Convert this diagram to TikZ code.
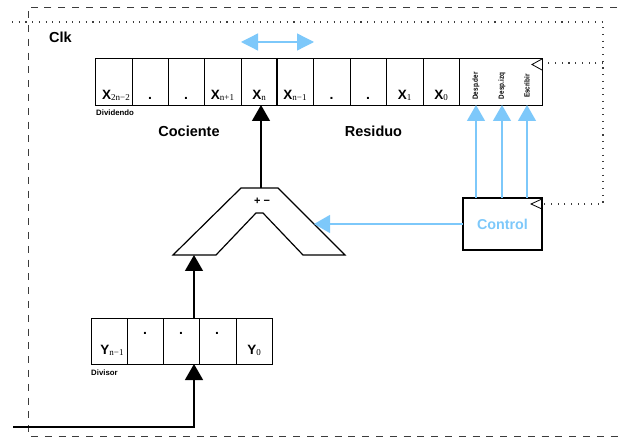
\documentclass[tikz,border=0pt]{standalone}
\usepackage{fontspec}
\setmainfont{Liberation Serif}
\setsansfont{Liberation Sans}
\usetikzlibrary{arrows.meta}
\definecolor{ctrlblue}{RGB}{125,200,250}
\definecolor{framegray}{RGB}{60,60,60}

% register bit: bold sans letter with a small serif index
\newcommand\regbit[2]{{\sffamily\bfseries\fontsize{13.5}{13.5}\selectfont #1}{\rmfamily\mdseries\fontsize{9}{9}\selectfont\raisebox{-0.8pt}{#2}}}
\newcommand\regdot{{\sffamily\bfseries\fontsize{14}{14}\selectfont .}}

\begin{document}
\begin{tikzpicture}[x=1pt,y=-1pt,
  font=\sffamily\bfseries,
  cell/.style={draw, line width=0.8pt, minimum height=47pt, inner sep=0pt, outer sep=0pt, anchor=north west},
  dcell/.style={draw, line width=0.8pt, minimum height=46pt, minimum width=36pt, inner sep=0pt, outer sep=0pt, anchor=north west},
  bitlabel/.style={anchor=base, inner sep=0pt},
  ctrllabel/.style={rotate=90, inner sep=0pt, font=\sffamily\bfseries\fontsize{7.5}{7.5}\selectfont, xscale=0.85},
  caption/.style={anchor=base, inner sep=0pt, font=\sffamily\bfseries\fontsize{14.5}{14.5}\selectfont},
  small/.style={anchor=base west, inner sep=0pt, font=\sffamily\bfseries\fontsize{7.8}{7.8}\selectfont},
  conn/.style={draw=black, line width=1.3pt, -{Triangle[length=16pt,width=18pt]}},
  bconn/.style={draw=ctrlblue, line width=1.3pt, -{Triangle[length=16pt,width=18pt]}},
  clkline/.style={draw=framegray, line width=1.1pt, dash pattern=on 1.1pt off 5.6pt},
  frameline/.style={draw=framegray, line width=0.9pt, dash pattern=on 7pt off 6.8pt},
  clktri/.style={draw=black, line width=0.8pt}]
\useasboundingbox (0,0) rectangle (624,438);

% outer dashed frame
\draw[frameline] (700,7) -- (28,7) -- (28,436) -- (700,436);

% clock distribution
\coordinate (clkin) at (12,22);
\coordinate (regclk) at (542,63);
\coordinate (ctrlclk) at (542,204);
\draw[clkline] (clkin) -- (603,22) -- (603,204) -- (ctrlclk);
\draw[clkline] (603,63) -- (regclk);
\node[caption, anchor=base west] (clk) at (49,43) {Clk};

% shift direction
\coordinate (shl) at (241,42);
\coordinate (shr) at (314,42);
\draw[draw=ctrlblue, line width=1.3pt, {Triangle[length=17pt,width=17pt]}-{Triangle[length=17pt,width=17pt]}] (shl) -- (shr);

% dividend register
\node[cell, minimum width=37pt] (d1) at (95,58) {};
\node[cell, minimum width=36pt] (d2) at (132,58) {};
\node[cell, minimum width=36pt] (d3) at (168,58) {};
\node[cell, minimum width=37pt] (d4) at (204,58) {};
\node[cell, minimum width=36pt] (d5) at (241,58) {};
\node[cell, minimum width=36pt] (d6) at (277,58) {};
\node[cell, minimum width=37pt] (d7) at (313,58) {};
\node[cell, minimum width=36pt] (d8) at (350,58) {};
\node[cell, minimum width=37pt] (d9) at (386,58) {};
\node[cell, minimum width=36pt] (d10) at (423,58) {};
\node[cell, minimum width=83pt] (dc) at (459,58) {};
\draw[line width=2.6pt] (d6.north west) -- (d6.south west);

\node[bitlabel] (x1) at (116,100) {\regbit{X}{2n−2}};
\node[bitlabel] (x2) at (150,100) {\regdot};
\node[bitlabel] (x3) at (186,100) {\regdot};
\node[bitlabel] (x4) at (222.5,100) {\regbit{X}{n+1}};
\node[bitlabel] (x5) at (259,100) {\regbit{X}{n}};
\node[bitlabel] (x6) at (295,100) {\regbit{X}{n−1}};
\node[bitlabel] (x7) at (331.5,100) {\regdot};
\node[bitlabel] (x8) at (368,100) {\regdot};
\node[bitlabel] (x9) at (404.5,100) {\regbit{X}{1}};
\node[bitlabel] (x10) at (441,100) {\regbit{X}{0}};

\node[ctrllabel] (sr) at (476,86) {Desp.der};
\node[ctrllabel] (sl) at (502,86) {Desp.izq};
\node[ctrllabel] (wr) at (527,86) {Escribir};
\draw[clktri] (542,59) -- (532,64.5) -- (542,70);

\node[small] (dvd) at (96,116) {Dividendo};
\node[caption] (coc) at (189,137) {Cociente};
\node[caption] (res) at (373.5,137) {Residuo};

% adder / subtractor
\coordinate (aluout) at (261,188);
\coordinate (aluin) at (194,255);
\coordinate (aluctl) at (314,224);
\draw[line width=1.2pt, line join=miter] (241,188) -- (278,188) -- (345,255) -- (303,255) -- (263,213) -- (256,213) -- (216,255) -- (173,255) -- cycle;
\node[anchor=center, inner sep=0pt, font=\sffamily\bfseries\fontsize{11}{11}\selectfont] (pm) at (262,201) {+ −};
\draw[conn] (aluout) -- (aluout |- d5.south);

% control unit
\node[draw, line width=1.6pt, minimum width=79pt, minimum height=52pt, anchor=north west, inner sep=0pt, outer sep=0pt, text=ctrlblue, font=\sffamily\bfseries\fontsize{14.3}{14.3}\selectfont] (ctrl) at (463,198) {Control};
\draw[clktri] (542,199) -- (531,204) -- (542,209);
\draw[bconn] (sr |- ctrl.north) -- (sr |- dc.south);
\draw[bconn] (sl |- ctrl.north) -- (sl |- dc.south);
\draw[bconn] (wr |- ctrl.north) -- (wr |- dc.south);
\draw[bconn] (ctrl.west) -- (aluctl);

% divisor register
\node[dcell] (y1) at (91,318) {};
\node[dcell] (y2) at (127,318) {};
\node[dcell] (y3) at (163,318) {};
\node[dcell, minimum width=37pt] (y4) at (199,318) {};
\node[dcell] (y5) at (236,318) {};
\node[bitlabel] (ty1) at (112,355) {\regbit{Y}{n−1}};
\node[bitlabel] (ty2) at (145,335) {\regdot};
\node[bitlabel] (ty3) at (181,335) {\regdot};
\node[bitlabel] (ty4) at (217,335) {\regdot};
\node[bitlabel] (ty5) at (254,355) {\regbit{Y}{0}};
\node[small] (dvs) at (91,375) {Divisor};

\coordinate (divout) at (194,318);
\coordinate (divin) at (194,364);
\coordinate (din) at (13,427);
\draw[conn] (divout) -- (aluin);
\draw[conn] (din) -| (divin);
\end{tikzpicture}
\end{document}
